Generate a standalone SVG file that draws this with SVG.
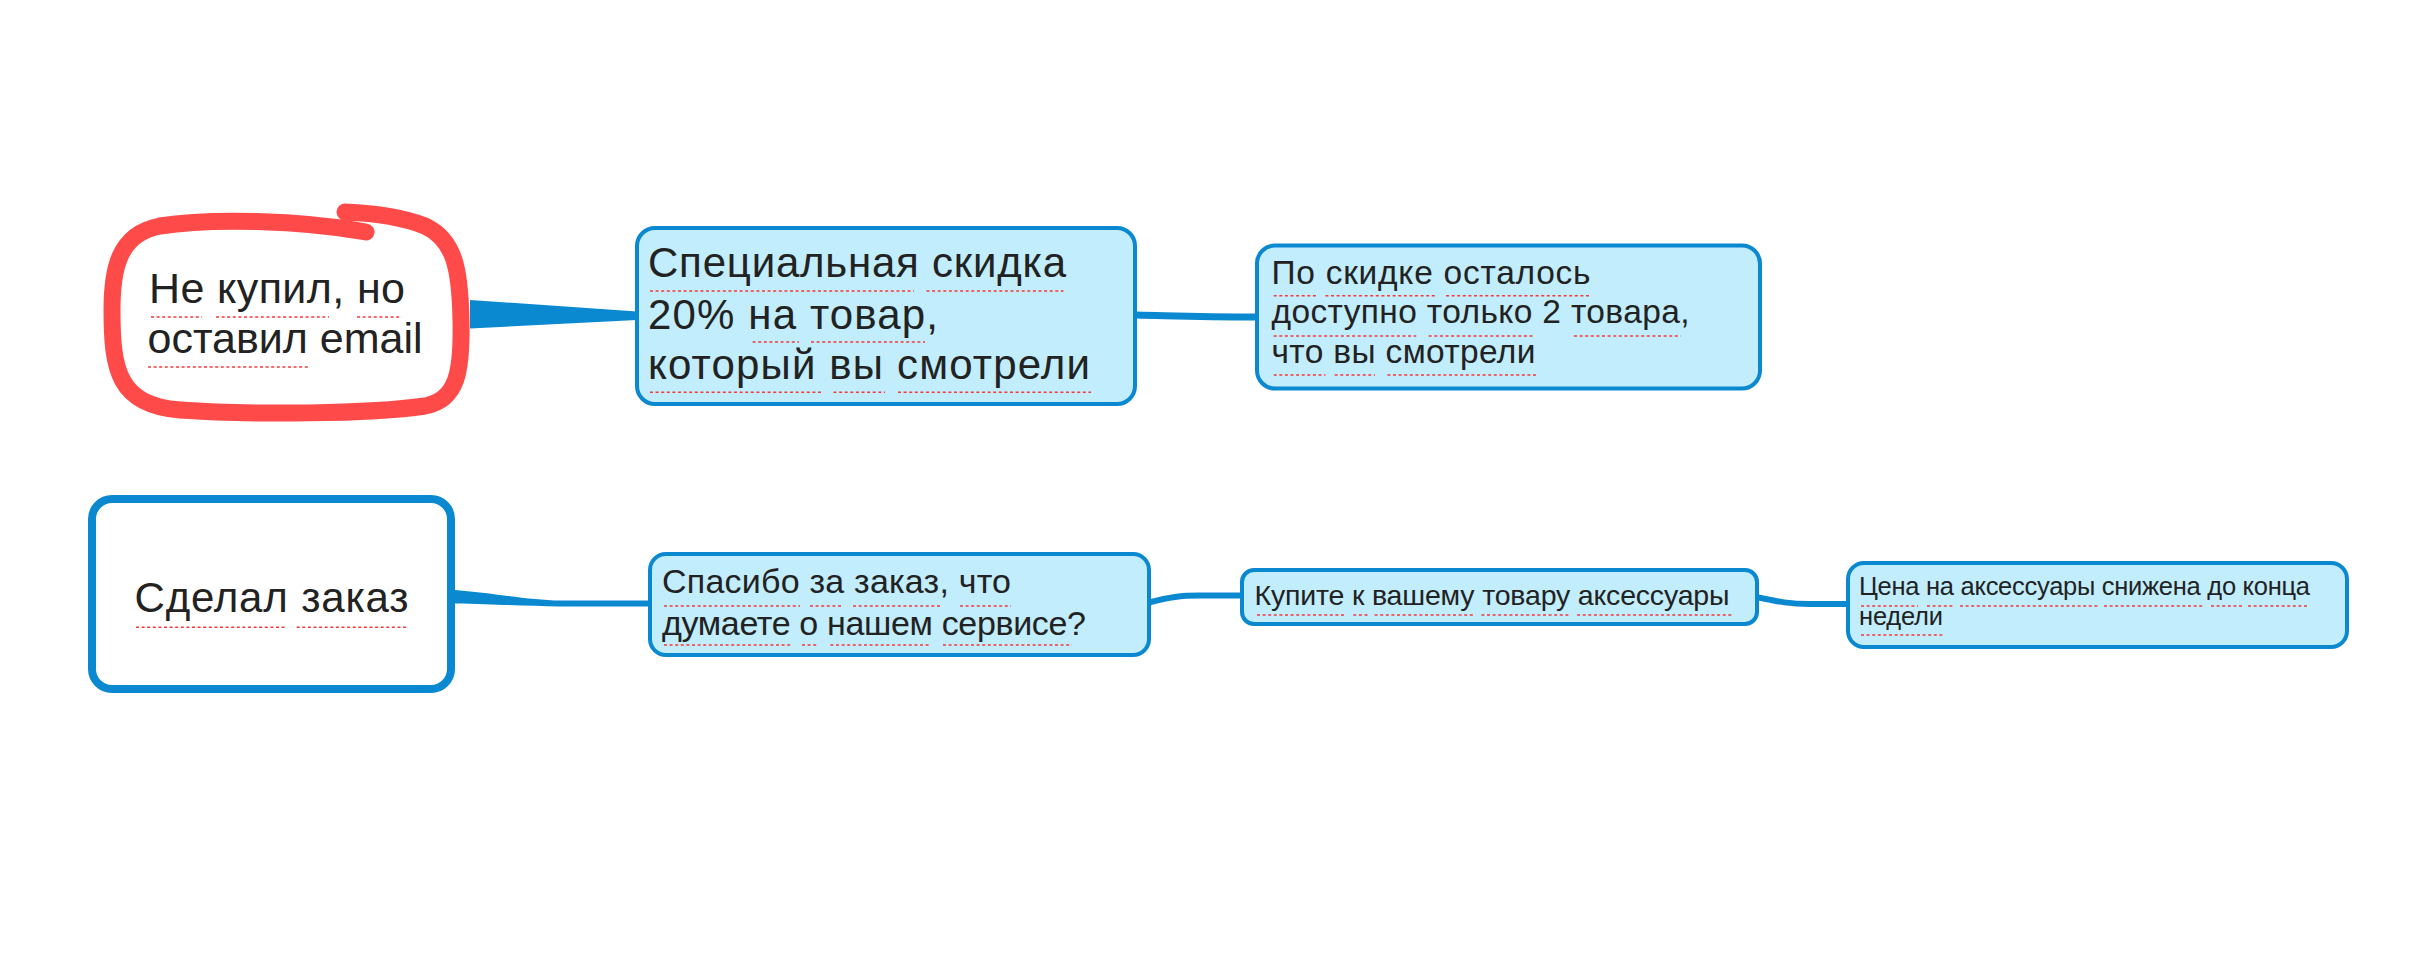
<svg xmlns="http://www.w3.org/2000/svg" width="2432" height="972" viewBox="0 0 2432 972">
<style>
.box{fill:#C1EDFC;stroke:#0A88D0;stroke-width:4}
.t{font-family:"Liberation Sans",Arial,Helvetica,sans-serif;fill:#222}
.sp{stroke:#F53A3A;stroke-width:1.6;stroke-dasharray:3 2.6;fill:none}
.con{fill:none;stroke:#0A88D0;stroke-linecap:butt}
</style>
<rect width="2432" height="972" fill="#fff"/>
<g id="connectors">
<path d="M470,300 L637,311.5 L637,320 L470,328.5 Z" fill="#0A88D0"/>
<path d="M455,590 C500,594 530,600 560,600.5 L650,600.5 L650,606.5 L560,606.5 C530,606 500,604.5 455,603.5 Z" fill="#0A88D0"/>
<path class="con" stroke-width="7" d="M1137,315 C1180,316 1200,317 1257,317"/>
<path class="con" stroke-width="6" d="M1149,602.5 C1170,597 1180,595.5 1200,595.5 L1242,595.5"/>
<path class="con" stroke-width="6" d="M1756,597 C1780,602 1790,604 1810,604 L1848,604"/>
</g>
<g id="node-ne-kupil">
<path d="M366,232 C300,220 210,218 160,226 C118,234 112,270 112,310 C112,370 118,405 180,410 C250,415 370,414 425,406 C458,400 462,370 461,320 C460,270 455,240 425,226 C400,216 370,213 345,212" fill="none" stroke="#FF4A4A" stroke-width="17" stroke-linecap="round" stroke-linejoin="round"/>
<text class="t" font-size="43" x="149" y="303" textLength="256" lengthAdjust="spacing">Не купил, но</text>
<text class="t" font-size="43" x="147.5" y="353" textLength="275" lengthAdjust="spacing">оставил email</text>
<path class="sp" d="M151,317H202M216,317H329M357,317H402M148,367H310"/>
</g>
<g id="node-skidka">
<rect class="box" x="637" y="228" width="498" height="176" rx="18"/>
<text class="t" font-size="42" x="648" y="277" textLength="418" lengthAdjust="spacing">Специальная скидка</text>
<text class="t" font-size="42" x="648" y="328.5" textLength="290" lengthAdjust="spacing">20% на товар,</text>
<text class="t" font-size="42" x="648" y="378.5" textLength="442" lengthAdjust="spacing">который вы смотрели</text>
<path class="sp" d="M650,291H914M926.5,291H1063.5M752.6,342H799M811,342H925M650,392.3H821M833.5,392.3H885M898,392.3H1091"/>
</g>
<g id="node-ostalos">
<rect class="box" x="1257" y="245.5" width="503" height="143" rx="18"/>
<text class="t" font-size="33.5" x="1271.5" y="284" textLength="319" lengthAdjust="spacing">По скидке осталось</text>
<text class="t" font-size="33.5" x="1271.5" y="323.3" textLength="418" lengthAdjust="spacing">доступно только 2 товара,</text>
<text class="t" font-size="33.5" x="1271.5" y="362.7" textLength="264" lengthAdjust="spacing">что вы смотрели</text>
<path class="sp" d="M1273.7,295.7H1317.5M1325.4,295.7H1437M1446,295.7H1589.5M1273.7,336H1416.3M1428.7,336H1534.4M1574,336H1680.8M1273.7,375H1325.4M1334.7,375H1375M1387.4,375H1536"/>
</g>
<g id="node-sdelal">
<rect x="92" y="499" width="359" height="190" rx="20" fill="#fff" stroke="#0A88D0" stroke-width="8"/>
<text class="t" font-size="42" x="134.5" y="611.7" textLength="274" lengthAdjust="spacing">Сделал заказ</text>
<path class="sp" d="M136,627.3H285M296.7,627.3H408.3"/>
</g>
<g id="node-spasibo">
<rect class="box" x="650" y="554" width="499" height="101" rx="16"/>
<text class="t" font-size="34" x="662" y="593.3" textLength="349" lengthAdjust="spacing">Спасибо за заказ, что</text>
<text class="t" font-size="34" x="662" y="635" textLength="424" lengthAdjust="spacing">думаете о нашем сервисе?</text>
<path class="sp" d="M664,606H800M810,606H842.5M853,606H942M960,606H1011M664,645H791.5M802,645H817M830.4,645H930M943,645H1072"/>
</g>
<g id="node-kupite">
<rect class="box" x="1242" y="570" width="515" height="54" rx="12"/>
<text class="t" font-size="28.5" x="1254.5" y="605" textLength="475" lengthAdjust="spacing">Купите к вашему товару аксессуары</text>
<path class="sp" d="M1257,615H1345.4M1353.3,615H1367.7M1374.6,615H1474.5M1481.4,615H1570.2M1577.1,615H1732"/>
</g>
<g id="node-cena">
<rect class="box" x="1848" y="563" width="499" height="84" rx="16"/>
<text class="t" font-size="25.5" x="1859" y="595" textLength="451" lengthAdjust="spacing">Цена на аксессуары снижена до конца</text>
<text class="t" font-size="25.5" x="1859" y="624.5" textLength="84" lengthAdjust="spacing">недели</text>
<path class="sp" d="M1861,606H1918M1927,606H1953M1960,606H2098M2104,606H2203M2211,606H2242M2248,606H2308M1861,635H1943"/>
</g>
</svg>
